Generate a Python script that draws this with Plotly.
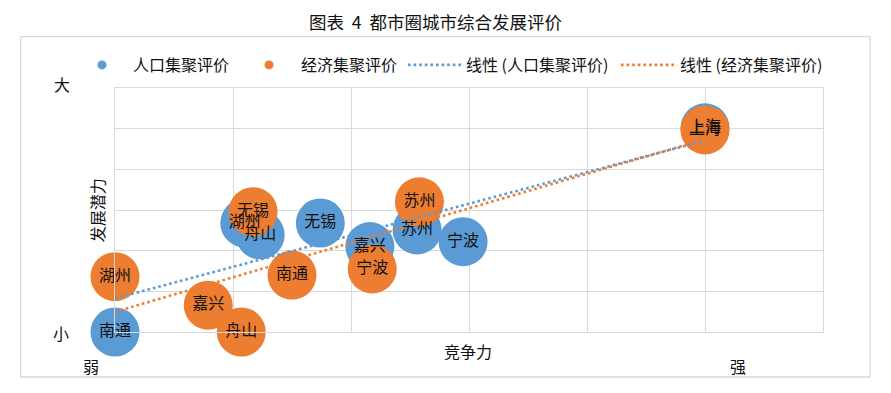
import numpy as np
import plotly.graph_objects as go

# ---------------- data ----------------
pop_cities = ["南通", "湖州", "舟山", "无锡", "嘉兴", "苏州", "宁波", "上海"]
pop_x = [0.0, 1.10, 1.23, 1.74, 2.16, 2.56, 2.95, 5.0]
pop_y = [0.0, 2.68, 2.39, 2.68, 2.10, 2.51, 2.22, 5.02]

eco_cities = ["湖州", "嘉兴", "舟山", "无锡", "南通", "宁波", "苏州", "上海"]
eco_x = [0.0, 0.79, 1.07, 1.17, 1.50, 2.18, 2.58, 5.0]
eco_y = [1.36, 0.66, 0.0, 2.96, 1.40, 1.55, 3.20, 4.97]

series_names = ["人口集聚评价", "经济集聚评价"]
trend_names = ["线性 (人口集聚评价)", "线性 (经济集聚评价)"]

title_text = "图表\u00a0\u00a04\u00a0\u00a0都市圈城市综合发展评价"
x_title = "竞争力"
y_title = "发展潜力"
corner_labels = {"y_high": "大", "y_low": "小", "x_low": "弱", "x_high": "强"}

BLUE = "#5B9BD5"
ORANGE = "#ED7D31"
GRID = "#D9D9D9"
FONT = "Noto Sans CJK SC"
TXT = "#111111"

fig = go.Figure()


def trend(xs, ys):
    k, b = np.polyfit(xs, ys, 1)
    tx = np.array([min(xs), max(xs)])
    return tx, k * tx + b


# bubbles
fig.add_trace(go.Scatter(x=pop_x, y=pop_y, mode="markers", showlegend=False,
                         marker=dict(size=49, color=BLUE, line=dict(width=0)),
                         cliponaxis=False, hoverinfo="skip"))
fig.add_trace(go.Scatter(x=eco_x, y=eco_y, mode="markers", showlegend=False,
                         marker=dict(size=49, color=ORANGE, line=dict(width=0)),
                         cliponaxis=False, hoverinfo="skip"))

# trend lines
for xs, ys, col, nm, lg in [(pop_x, pop_y, BLUE, trend_names[0], "legend3"),
                            (eco_x, eco_y, ORANGE, trend_names[1], "legend4")]:
    tx, ty = trend(xs, ys)
    fig.add_trace(go.Scatter(x=tx, y=ty, mode="lines", name=nm, legend=lg,
                             line=dict(color=col, width=2.6, dash="2.6px,3px"),
                             cliponaxis=False, hoverinfo="skip"))

# labels on top
for xs, ys, names in [(pop_x, pop_y, pop_cities), (eco_x, eco_y, eco_cities)]:
    fig.add_trace(go.Scatter(x=xs, y=ys, mode="text", text=names, showlegend=False,
                             textposition="middle center",
                             textfont=dict(family=FONT, size=16, color=TXT),
                             cliponaxis=False, hoverinfo="skip"))

# legend-only entries for bubble series
fig.add_trace(go.Scatter(x=[None], y=[None], mode="markers", name=series_names[0],
                         legend="legend", marker=dict(size=9, color=BLUE)))
fig.add_trace(go.Scatter(x=[None], y=[None], mode="markers", name=series_names[1],
                         legend="legend2", marker=dict(size=9, color=ORANGE)))

PX_L, PX_R, PX_T, PX_B = 115, 823, 88, 332
W, H = 891, 393


def px2x(px):
    return (px - PX_L) / (PX_R - PX_L)


def px2y(py):
    return (PX_B - py) / (PX_B - PX_T)


def legend_at(left_px, iw):
    return dict(x=px2x(left_px), xanchor="left", y=px2y(65), yanchor="middle",
                orientation="h", bgcolor="rgba(0,0,0,0)", borderwidth=0,
                font=dict(family=FONT, size=16, color=TXT), itemwidth=iw)


ann = []
def add_text(t, px, py, angle=0, size=16):
    ann.append(dict(text=t, x=px2x(px), y=px2y(py), xref="paper", yref="paper",
                    xanchor="center", yanchor="middle", showarrow=False,
                    textangle=angle, font=dict(family=FONT, size=size, color=TXT)))

add_text(title_text, 435.5, 21.7, size=17.5)
add_text(corner_labels["y_high"], 61.7, 84)
add_text(corner_labels["y_low"], 61, 333)
add_text(corner_labels["x_low"], 90.7, 365.5)
add_text(corner_labels["x_high"], 738, 366)
add_text(x_title, 468, 350.7)
add_text(y_title, 97.3, 210, angle=-90)

shapes = [dict(type="rect", xref="paper", yref="paper",
               x0=px2x(20.7), x1=px2x(870), y0=px2y(377), y1=px2y(36.7),
               line=dict(color=GRID, width=1.3), fillcolor="rgba(0,0,0,0)", layer="below")]

axis_common = dict(range=[0, 6], dtick=1, showticklabels=False, ticks="",
                   showgrid=True, gridcolor=GRID, gridwidth=1.3, zeroline=False,
                   showline=True, mirror=True, linecolor=GRID, linewidth=1.3,
                   fixedrange=True)

fig.update_layout(
    width=W, height=H,
    margin=dict(l=PX_L, r=W - PX_R, t=PX_T, b=H - PX_B, pad=0),
    paper_bgcolor="white", plot_bgcolor="white",
    font=dict(family=FONT, size=16, color=TXT),
    xaxis=axis_common, yaxis=axis_common,
    legend=legend_at(71, 52), legend2=legend_at(237, 54),
    legend3=legend_at(403, 53), legend4=legend_at(616, 54),
    annotations=ann, shapes=shapes,
)

fig.write_html("out.html", config={"displayModeBar": False},
               post_script="document.body.style.margin='0';document.body.style.padding='0';")
